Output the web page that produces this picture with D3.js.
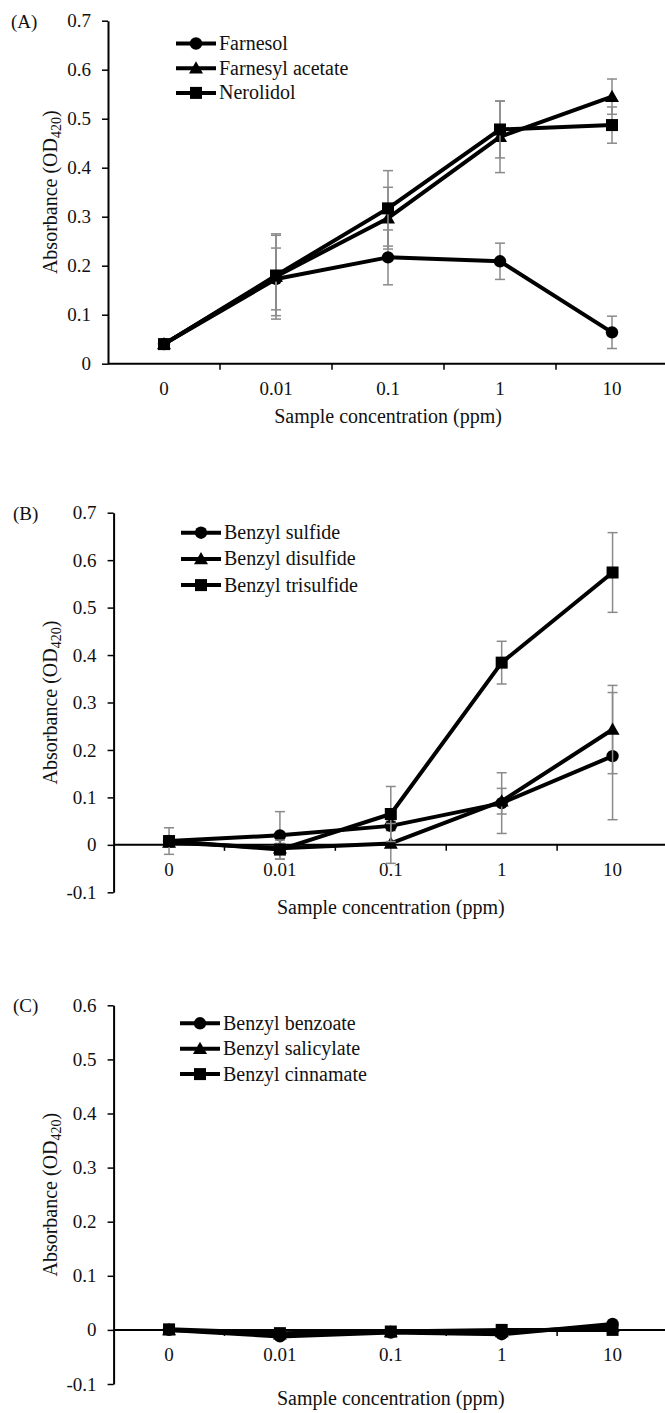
<!DOCTYPE html>
<meta charset="utf-8">
<title>Absorbance vs sample concentration</title>
<style>
body{ margin:0; background:white; }
text{ font-family:"Liberation Serif","Times New Roman",serif; fill:#111; }
</style>
<body>
<script src="https://d3js.org/d3.v7.min.js"></script>
<script>

var width = 665, height = 1413;

// categories (x)
var concLabels = ["0", "0.01", "0.1", "1", "10"];

// panel A
var namesA = ["Farnesol", "Farnesyl acetate", "Nerolidol"];
var farnesol        = [0.040, 0.173, 0.217, 0.209, 0.064];
var farnesolErr     = [0.003, 0.063, 0.056, 0.037, 0.033];
var farnesylAcetate = [0.040, 0.178, 0.297, 0.463, 0.545];
var farnesylAcetateErr = [0.003, 0.087, 0.063, 0.073, 0.036];
var nerolidol       = [0.040, 0.180, 0.317, 0.478, 0.487];
var nerolidolErr    = [0.003, 0.082, 0.077, 0.058, 0.037];
var ticksA = [0, 0.1, 0.2, 0.3, 0.4, 0.5, 0.6, 0.7];

// panel B
var namesB = ["Benzyl sulfide", "Benzyl disulfide", "Benzyl trisulfide"];
var benzylSulfide      = [0.008, 0.020, 0.040, 0.088, 0.187];
var benzylSulfideErr   = [0.006, 0.050, 0.010, 0.064, 0.134];
var benzylDisulfide    = [0.005, -0.007, 0.003, 0.092, 0.243];
var benzylDisulfideErr = [0.010, 0.010, 0.042, 0.027, 0.093];
var benzylTrisulfide   = [0.008, -0.010, 0.065, 0.384, 0.574];
var benzylTrisulfideErr= [0.028, 0.020, 0.058, 0.045, 0.084];
var ticksB = [-0.1, 0, 0.1, 0.2, 0.3, 0.4, 0.5, 0.6, 0.7];

// panel C
var namesC = ["Benzyl benzoate", "Benzyl salicylate", "Benzyl cinnamate"];
var benzylBenzoate     = [0.000, -0.012, -0.005, -0.008, 0.011];
var benzylBenzoateErr  = [0.003, 0.004, 0.003, 0.003, 0.004];
var benzylSalicylate   = [0.000, -0.008, -0.004, -0.004, 0.006];
var benzylSalicylateErr= [0.003, 0.003, 0.003, 0.003, 0.003];
var benzylCinnamate    = [0.001, -0.006, -0.003, 0.000, 0.000];
var benzylCinnamateErr = [0.003, 0.003, 0.003, 0.003, 0.003];
var ticksC = [-0.1, 0, 0.1, 0.2, 0.3, 0.4, 0.5, 0.6];

var markers = ["circle", "triangle", "square"];

var panels = [
	{ tag: "(A)", tagX: 11, left: 108, top: 20.7, bottom: 363.7, domain: [0, 0.7], ticks: ticksA,
	  names: namesA, values: [farnesol, farnesylAcetate, nerolidol],
	  errs: [farnesolErr, farnesylAcetateErr, nerolidolErr],
	  legendX: 176, legendY: 43.5, legendStep: 24.7, titleY: 423 },
	{ tag: "(B)", tagX: 13, left: 113.6, top: 512.7, bottom: 892.3, domain: [-0.1, 0.7], ticks: ticksB,
	  names: namesB, values: [benzylSulfide, benzylDisulfide, benzylTrisulfide],
	  errs: [benzylSulfideErr, benzylDisulfideErr, benzylTrisulfideErr],
	  legendX: 181, legendY: 532.7, legendStep: 26.2, titleY: 914 },
	{ tag: "(C)", tagX: 13, left: 113.6, top: 1005.3, bottom: 1384, domain: [-0.1, 0.6], ticks: ticksC,
	  names: namesC, values: [benzylBenzoate, benzylSalicylate, benzylCinnamate],
	  errs: [benzylBenzoateErr, benzylSalicylateErr, benzylCinnamateErr],
	  legendX: 180, legendY: 1023.3, legendStep: 25.4, titleY: 1405 }
];

var svg = d3.select("body").append("svg")
	.attr("width", width)
	.attr("height", height);

function marker(g, type, cx, cy){
	if (type == "circle") {
		g.append("circle").attr("cx", cx).attr("cy", cy).attr("r", 6.2).attr("fill", "black");
	} else if (type == "square") {
		g.append("rect").attr("x", cx - 6).attr("y", cy - 6).attr("width", 12).attr("height", 12).attr("fill", "black");
	} else {
		var s = 7;
		g.append("path")
			.attr("d", "M" + cx + "," + (cy - s) + "L" + (cx + s) + "," + (cy + s * 0.75) + "L" + (cx - s) + "," + (cy + s * 0.75) + "Z")
			.attr("fill", "black");
	}
}

var fmt = function(d){ return d === 0 ? "0" : String(+d.toFixed(1)); };

panels.forEach(function(p){
	var g = svg.append("g");

	var x = d3.scaleBand().domain(concLabels).range([p.left, 668]);
	var y = d3.scaleLinear().domain(p.domain).range([p.bottom, p.top]);
	var y0 = y(0);

	// y axis
	var yAxis = g.append("g")
		.attr("transform", "translate(" + p.left + ",0)")
		.call(d3.axisLeft(y).tickValues(p.ticks).tickFormat(fmt).tickSize(6).tickSizeOuter(0).tickPadding(11));
	yAxis.select(".domain").attr("stroke", "black").attr("stroke-width", 2);
	yAxis.selectAll(".tick line").attr("stroke", "black").attr("stroke-width", 1.5);
	yAxis.selectAll(".tick text")
		.style("font-family", "'Liberation Serif', serif")
		.attr("font-size", 19).attr("fill", "#111");

	// x axis at zero
	g.append("line")
		.attr("x1", p.left).attr("x2", width)
		.attr("y1", y0).attr("y2", y0)
		.attr("stroke", "black").attr("stroke-width", 2);
	g.selectAll(".xtick")
		.data(concLabels.slice(1))
		.enter().append("line")
		.attr("x1", function(d){ return x(d); })
		.attr("x2", function(d){ return x(d); })
		.attr("y1", y0).attr("y2", y0 + 6)
		.attr("stroke", "black").attr("stroke-width", 1.5);
	g.selectAll(".xlab")
		.data(concLabels)
		.enter().append("text")
		.attr("x", function(d){ return x(d) + x.bandwidth() / 2; })
		.attr("y", y0 + 31)
		.attr("text-anchor", "middle")
		.attr("font-size", 19)
		.text(function(d){ return d; });

	// axis titles
	g.append("text")
		.attr("x", (p.left + 668) / 2)
		.attr("y", p.titleY)
		.attr("text-anchor", "middle")
		.attr("font-size", 20)
		.text("Sample concentration (ppm)");

	var yt = g.append("text")
		.attr("transform", "translate(57," + ((y(p.domain[1]) + y(p.domain[0])) / 2) + ") rotate(-90)")
		.attr("text-anchor", "middle")
		.attr("font-size", 20);
	yt.append("tspan").text("Absorbance (OD");
	yt.append("tspan").attr("font-size", 14).attr("dy", 4).text("420");
	yt.append("tspan").attr("dy", -4).text(")");

	g.append("text")
		.attr("x", p.tagX).attr("y", y(p.domain[1]) + 7)
		.attr("font-size", 19)
		.text(p.tag);

	var line = d3.line()
		.x(function(d, i){ return x(concLabels[i]) + x.bandwidth() / 2; })
		.y(function(d){ return y(d); });

	// series
	p.values.forEach(function(vals, s){
		var sg = g.append("g");
		sg.append("path")
			.datum(vals)
			.attr("d", line)
			.attr("fill", "none")
			.attr("stroke", "black")
			.attr("stroke-width", 4)
			.attr("stroke-linejoin", "round");

		vals.forEach(function(v, i){
			var cx = x(concLabels[i]) + x.bandwidth() / 2;
			var e = p.errs[s][i];
			sg.append("line")
				.attr("x1", cx).attr("x2", cx)
				.attr("y1", y(v - e)).attr("y2", y(v + e))
				.attr("stroke", "#8a8a8a").attr("stroke-width", 1.5);
			[v - e, v + e].forEach(function(c){
				sg.append("line")
					.attr("x1", cx - 5).attr("x2", cx + 5)
					.attr("y1", y(c)).attr("y2", y(c))
					.attr("stroke", "#8a8a8a").attr("stroke-width", 1.5);
			});
			marker(sg, markers[s], cx, y(v));
		});
	});

	// legend
	p.names.forEach(function(name, s){
		var ly = p.legendY + s * p.legendStep;
		g.append("line")
			.attr("x1", p.legendX).attr("x2", p.legendX + 40)
			.attr("y1", ly).attr("y2", ly)
			.attr("stroke", "black").attr("stroke-width", 4);
		marker(g, markers[s], p.legendX + 20, ly);
		g.append("text")
			.attr("x", p.legendX + 43).attr("y", ly + 6.5)
			.attr("font-size", 20)
			.text(name);
	});
});

</script>
</body>
